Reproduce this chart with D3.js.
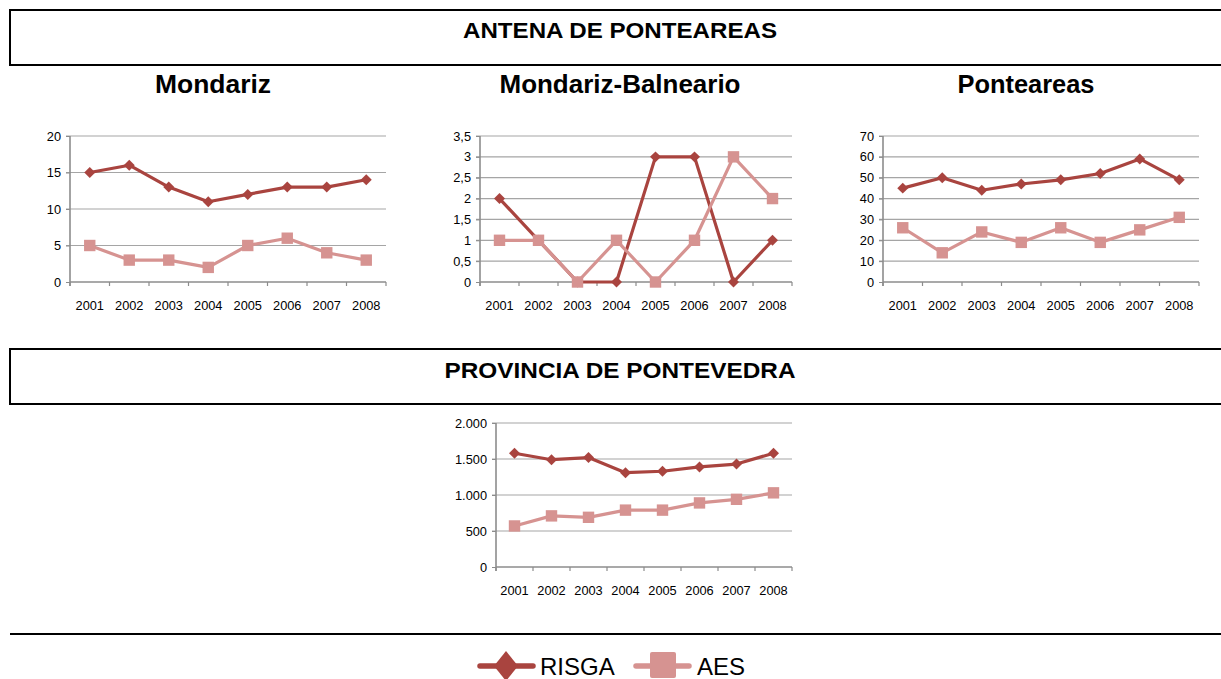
<!DOCTYPE html>
<html><head><meta charset="utf-8">
<script src="https://cdn.jsdelivr.net/npm/d3@7"></script>
<style>body{margin:0;background:#fff}svg{display:block}</style>
</head><body>
<svg id="c" width="1221" height="679"></svg>
<script>
const years = ["2001","2002","2003","2004","2005","2006","2007","2008"];
const seriesNames = ["RISGA","AES"];
const mondarizRISGA = [15,16,13,11,12,13,13,14];
const mondarizAES = [5,3,3,2,5,6,4,3];
const balnearioRISGA = [2,1,0,0,3,3,0,1];
const balnearioAES = [1,1,0,1,0,1,3,2];
const ponteareasRISGA = [45,50,44,47,49,52,59,49];
const ponteareasAES = [26,14,24,19,26,19,25,31];
const pontevedraRISGA = [1580,1490,1520,1310,1330,1390,1430,1580];
const pontevedraAES = [570,710,690,790,790,890,940,1030];
const ticksMondariz = [0,5,10,15,20];
const ticksBalneario = [0,0.5,1,1.5,2,2.5,3,3.5];
const ticksPonteareas = [0,10,20,30,40,50,60,70];
const ticksPontevedra = [0,500,1000,1500,2000];

const C_RISGA = "#A9443F", C_AES = "#D69391";
const svg = d3.select("#c");
const FONT = "'Liberation Sans', Arial, sans-serif";

function fitText(sel, w){ sel.attr("textLength", w).attr("lengthAdjust","spacingAndGlyphs"); }

function headerBox(y0, y1, label, cx, base, size, w){
  const g = svg.append("g");
  g.append("path").attr("d",`M1221,${y0}H10V${y1}H1221`).attr("fill","none").attr("stroke","#000").attr("stroke-width",2);
  const t = g.append("text").attr("x",cx).attr("y",base).attr("text-anchor","middle")
    .attr("font-family",FONT).attr("font-weight","bold").attr("font-size",size).text(label);
  fitText(t, w);
}
headerBox(10, 65, "ANTENA DE PONTEAREAS", 620, 38, 21.5, 314);
headerBox(349, 404, "PROVINCIA DE PONTEVEDRA", 620, 378, 21.5, 351);
svg.append("line").attr("x1",10).attr("x2",1221).attr("y1",634).attr("y2",634).attr("stroke","#000").attr("stroke-width",2);

function chart(o){
  const g = svg.append("g");
  if(o.title){
    const t = g.append("text").attr("x",o.titleX).attr("y",o.titleY).attr("text-anchor","middle")
      .attr("font-family",FONT).attr("font-weight","bold").attr("font-size",25).text(o.title);
    fitText(t, o.titleW);
  }
  const x = d3.scaleBand().domain(years).range([o.x0,o.x1]);
  const y = d3.scaleLinear().domain([0,o.max]).range([o.y0,o.y1]);
  g.selectAll(".gl").data(o.ticks.filter(d=>d>0)).join("line")
    .attr("x1",o.x0-4).attr("x2",o.x1).attr("y1",d=>y(d)).attr("y2",d=>y(d))
    .attr("stroke","#A5A5A5").attr("stroke-width",1.2);
  const ya = g.append("g").attr("transform",`translate(${o.x0},0)`)
    .call(d3.axisLeft(y).tickValues(o.ticks).tickSize(4).tickPadding(5).tickFormat(o.fmt));
  ya.select(".domain").remove();
  ya.selectAll(".tick line").attr("stroke","#8C8C8C");
  ya.selectAll("text").attr("font-family",FONT).attr("font-size",12.8).attr("fill","#000");
  g.append("line").attr("x1",o.x0).attr("x2",o.x0).attr("y1",o.y1).attr("y2",o.y0+4).attr("stroke","#8C8C8C").attr("stroke-width",1.6);
  g.append("line").attr("x1",o.x0).attr("x2",o.x1).attr("y1",o.y0).attr("y2",o.y0).attr("stroke","#8C8C8C").attr("stroke-width",1.6);
  g.selectAll(".xt").data(d3.range(years.length+1)).join("line")
    .attr("x1",i=>o.x0+i*x.step()).attr("x2",i=>o.x0+i*x.step()).attr("y1",o.y0).attr("y2",o.y0+4)
    .attr("stroke","#8C8C8C").attr("stroke-width",1.2);
  g.selectAll(".xl").data(years).join("text")
    .attr("x",d=>x(d)+x.bandwidth()/2).attr("y",o.y0+28).attr("text-anchor","middle")
    .attr("font-family",FONT).attr("font-size",12.8).text(d=>d);
  const line = d3.line().x((d,i)=>x(years[i])+x.bandwidth()/2).y(d=>y(d));
  const sets = [[o.risga,C_RISGA,"diamond"],[o.aes,C_AES,"square"]];
  sets.forEach(([vals,col,shape])=>{
    g.append("path").datum(vals).attr("d",line).attr("fill","none").attr("stroke",col).attr("stroke-width",3.2).attr("stroke-linejoin","round");
    g.selectAll(null).data(vals).join("path")
      .attr("d", d3.symbol().type(d3.symbolSquare).size(shape==="diamond"?60:130)())
      .attr("transform",(d,i)=>`translate(${x(years[i])+x.bandwidth()/2},${y(d)})` + (shape==="diamond"?" rotate(45)":""))
      .attr("fill",col);
  });
}
const fmtComma = d => String(d).replace(".",",");
const fmtThousands = d => d3.format(",")(d).replace(/,/g,".");
chart({title:"Mondariz",titleX:213,titleY:93,titleW:116,x0:70,x1:386,y0:282,y1:136,max:20,ticks:ticksMondariz,fmt:d=>d,risga:mondarizRISGA,aes:mondarizAES});
chart({title:"Mondariz-Balneario",titleX:620,titleY:93,titleW:241,x0:480,x1:792,y0:282,y1:136,max:3.5,ticks:ticksBalneario,fmt:fmtComma,risga:balnearioRISGA,aes:balnearioAES});
chart({title:"Ponteareas",titleX:1026,titleY:93,titleW:137,x0:883,x1:1199,y0:282,y1:136,max:70,ticks:ticksPonteareas,fmt:d=>d,risga:ponteareasRISGA,aes:ponteareasAES});
chart({title:null,x0:496,x1:792,y0:567,y1:423,max:2000,ticks:ticksPontevedra,fmt:fmtThousands,risga:pontevedraRISGA,aes:pontevedraAES});

const lg = svg.append("g");
const legendItems = [{name:seriesNames[0],col:C_RISGA,lx:478,tx:540},{name:seriesNames[1],col:C_AES,lx:634,tx:697}];
legendItems.forEach((it,i)=>{
  lg.append("line").attr("x1",it.lx+2).attr("x2",it.lx+55).attr("y1",666).attr("y2",666).attr("stroke",it.col).attr("stroke-width",5.5).attr("stroke-linecap","round");
  if(i===0){
    lg.append("path").attr("d","M0,-15L12,0L0,15L-12,0Z").attr("transform",`translate(${it.lx+28},666)`).attr("fill",it.col);
  } else {
    lg.append("rect").attr("x",it.lx+16).attr("y",652).attr("width",26).attr("height",26).attr("rx",2).attr("fill",it.col);
  }
  lg.append("text").attr("x",it.tx).attr("y",675).attr("font-family",FONT).attr("font-size",24).text(it.name);
});
</script>
</body></html>
